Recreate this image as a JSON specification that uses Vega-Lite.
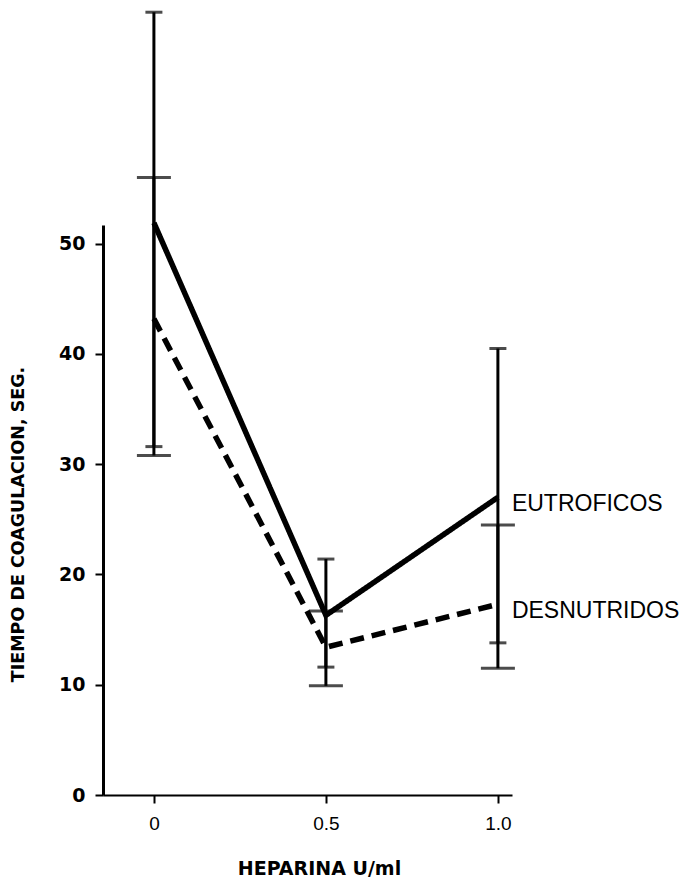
{
  "$schema": "https://vega.github.io/schema/vega-lite/v6.json",
  "width": 409,
  "height": 570,
  "autosize": {"type": "none"},
  "padding": {"top": 225, "left": 103, "right": 178, "bottom": 85},
  "background": "white",
  "config": {"view": {"stroke": null}},
  "data": {"values": [
    {"grupo": "EUTROFICOS", "dosis": 0, "media": 51.9, "bajo": 31.6, "alto": 71.0},
    {"grupo": "EUTROFICOS", "dosis": 0.5, "media": 16.3, "bajo": 11.6, "alto": 21.4},
    {"grupo": "EUTROFICOS", "dosis": 1.0, "media": 27.0, "bajo": 13.8, "alto": 40.5},
    {"grupo": "DESNUTRIDOS", "dosis": 0, "media": 43.2, "bajo": 30.8, "alto": 56.0},
    {"grupo": "DESNUTRIDOS", "dosis": 0.5, "media": 13.4, "bajo": 9.9, "alto": 16.7},
    {"grupo": "DESNUTRIDOS", "dosis": 1.0, "media": 17.3, "bajo": 11.5, "alto": 24.5}
  ]},
  "encoding": {
    "x": {"field": "dosis", "type": "quantitative",
      "scale": {"domain": [-0.148, 1.041], "nice": false, "zero": false},
      "axis": {"title": "HEPARINA U/ml", "values": [0, 0.5, 1], "labelExpr": "datum.value == 0 ? '0' : format(datum.value, '.1f')",
        "grid": false, "domainColor": "black", "domainWidth": 2, "tickColor": "black", "tickWidth": 2, "tickSize": 8,
        "labelFont": "Liberation Sans", "labelFontSize": 19, "labelColor": "black", "labelPadding": 11,
        "titleFont": "DejaVu Sans", "titleFontSize": 19, "titleFontWeight": "bold", "titleColor": "black",
        "titleX": 216, "titleY": 73, "titleAlign": "center", "titleBaseline": "middle"}}
  },
  "layer": [
    {
      "mark": {"type": "rule", "color": "black", "strokeWidth": 3},
      "encoding": {
        "y": {"field": "bajo", "type": "quantitative",
          "scale": {"domain": [0, 51.7], "nice": false},
          "axis": {"title": "TIEMPO DE COAGULACION, SEG.", "values": [0, 10, 20, 30, 40, 50], "grid": false,
            "domainColor": "black", "domainWidth": 3, "tickColor": "black", "tickWidth": 2, "tickSize": 8,
            "labelFont": "DejaVu Sans", "labelFontSize": 19, "labelFontWeight": "bold", "labelColor": "black", "labelPadding": 10,
            "titleFont": "DejaVu Sans", "titleFontSize": 17.5, "titleFontWeight": "bold", "titleColor": "black",
            "titleX": -85, "titleY": 299, "titleAngle": -90, "titleAlign": "center", "titleBaseline": "middle"}},
        "y2": {"field": "alto"}
      }
    },
    {
      "mark": {"type": "tick", "orient": "horizontal", "color": "black", "thickness": 3},
      "encoding": {
        "y": {"field": "alto", "type": "quantitative"},
        "size": {"field": "grupo", "type": "nominal", "scale": {"domain": ["EUTROFICOS", "DESNUTRIDOS"], "range": [17, 34]}, "legend": null}
      }
    },
    {
      "mark": {"type": "tick", "orient": "horizontal", "color": "black", "thickness": 3},
      "encoding": {
        "y": {"field": "bajo", "type": "quantitative"},
        "size": {"field": "grupo", "type": "nominal", "scale": {"domain": ["EUTROFICOS", "DESNUTRIDOS"], "range": [17, 34]}, "legend": null}
      }
    },
    {
      "mark": {"type": "line", "color": "black", "strokeWidth": 5.5},
      "encoding": {
        "y": {"field": "media", "type": "quantitative"},
        "detail": {"field": "grupo"},
        "strokeDash": {"field": "grupo", "type": "nominal", "scale": {"domain": ["EUTROFICOS", "DESNUTRIDOS"], "range": [[1, 0], [14, 8]]}, "legend": null}
      }
    },
    {
      "transform": [{"filter": "datum.dosis == 1"}],
      "mark": {"type": "text", "align": "left", "baseline": "middle", "dx": 14, "dy": 7, "font": "Liberation Sans", "fontSize": 23, "color": "black"},
      "encoding": {
        "y": {"field": "media", "type": "quantitative"},
        "text": {"field": "grupo"}
      }
    }
  ]
}
